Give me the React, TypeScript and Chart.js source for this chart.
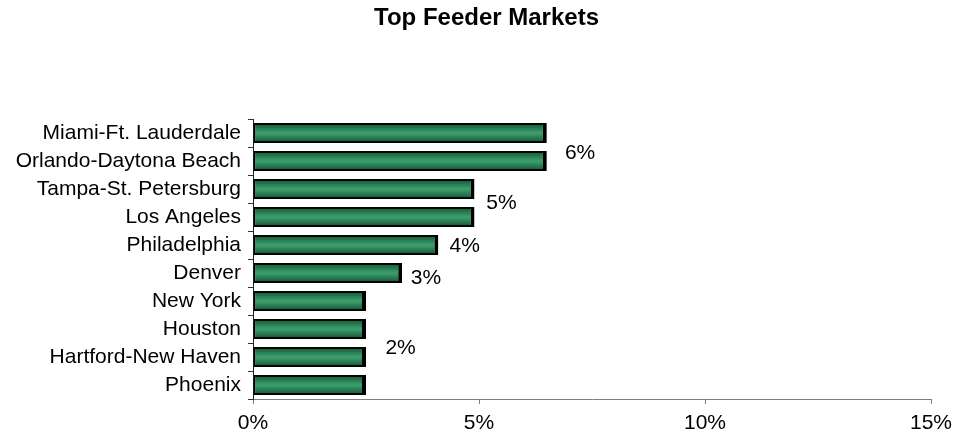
import React, { useEffect, useRef } from "react";
import { Chart, registerables } from "chart.js";

Chart.register(...registerables);

const chartTitle = "Top Feeder Markets";
const markets = [
  "Miami-Ft. Lauderdale",
  "Orlando-Daytona Beach",
  "Tampa-St. Petersburg",
  "Los Angeles",
  "Philadelphia",
  "Denver",
  "New York",
  "Houston",
  "Hartford-New Haven",
  "Phoenix",
];
const shares = [6.5, 6.5, 4.9, 4.9, 4.1, 3.3, 2.5, 2.5, 2.5, 2.5];
const xTickValues = [0, 5, 10, 15];
const valueLabels = ["6%", "5%", "4%", "3%", "2%"];
// label anchor in data space: x value (percent) and row (category index)
const valueLabelX = [6.9, 5.16, 4.35, 3.49, 2.93];
const valueLabelRow = [0.71, 2.5, 4.05, 5.18, 7.7];

const FONT = "'Liberation Sans', Arial, Helvetica, sans-serif";

const barStylePlugin = {
  id: "barStyle",
  afterDatasetsDraw(chart: any) {
    const ctx = chart.ctx;
    const meta = chart.getDatasetMeta(0);
    meta.data.forEach((el: any) => {
      const p = el.getProps(["x", "y", "base", "height"], true);
      const left = Math.min(p.x, p.base) + 2;
      const right = Math.max(p.x, p.base) - 4;
      const top = p.y - p.height / 2 + 2;
      const bottom = p.y + p.height / 2 - 2;
      const g = ctx.createLinearGradient(0, top, 0, bottom);
      g.addColorStop(0, "#1b5f3d");
      g.addColorStop(0.45, "#3a9b6b");
      g.addColorStop(0.55, "#3a9b6b");
      g.addColorStop(1, "#1b5f3d");
      ctx.save();
      ctx.fillStyle = g;
      ctx.fillRect(left, top, right - left, bottom - top);
      ctx.restore();
    });
  },
};

const textPlugin = {
  id: "chartTexts",
  afterDraw(chart: any) {
    const ctx = chart.ctx;
    const xs = chart.scales.x;
    const ys = chart.scales.y;
    const step = ys.getPixelForValue(1) - ys.getPixelForValue(0);
    ctx.save();
    // title, centred on the full canvas width
    ctx.font = `bold 24px ${FONT}`;
    ctx.fillStyle = "#000";
    ctx.textAlign = "center";
    ctx.textBaseline = "middle";
    ctx.fillText(chartTitle, chart.width / 2, 18.5);
    // value labels
    ctx.font = `21px ${FONT}`;
    ctx.textAlign = "left";
    valueLabels.forEach((t, i) => {
      const x = xs.getPixelForValue(valueLabelX[i]);
      const y = ys.getPixelForValue(0) + step * valueLabelRow[i];
      ctx.fillText(t, x, y);
    });
    ctx.restore();
  },
};

export default function App() {
  const ref = useRef<HTMLCanvasElement>(null);
  useEffect(() => {
    if (!ref.current) return;
    const chart = new Chart(ref.current, {
      type: "bar",
      data: {
        labels: markets,
        datasets: [
          {
            data: shares,
            backgroundColor: "#2e8a5a",
            borderColor: "#000000",
            borderWidth: { top: 2, bottom: 2, left: 2, right: 4 },
            borderSkipped: false,
            barPercentage: 0.72,
            categoryPercentage: 1,
          },
        ],
      },
      plugins: [barStylePlugin, textPlugin],
      options: {
        indexAxis: "y",
        animation: false,
        responsive: true,
        maintainAspectRatio: false,
        layout: { padding: { top: 119, bottom: 0, left: 0, right: 42 } },
        plugins: {
          legend: { display: false },
          tooltip: { enabled: false },
          title: { display: false },
        },
        scales: {
          x: {
            type: "linear",
            min: 0,
            max: 15,
            afterBuildTicks: (scale: any) => {
              scale.ticks = xTickValues.map((v) => ({ value: v }));
            },
            afterFit: (scale: any) => {
              scale.height = 38;
            },
            ticks: {
              color: "#000",
              font: { family: FONT, size: 21, lineHeight: 1.2 },
              padding: 7,
              maxRotation: 0,
              callback: (v: any) => `${v}%`,
            },
            grid: {
              drawOnChartArea: false,
              drawTicks: true,
              tickLength: 5,
              color: "#808080",
            },
            border: { display: true, color: "#808080", width: 1 },
          },
          y: {
            type: "category",
            afterFit: (scale: any) => {
              scale.width = 253;
            },
            ticks: {
              color: "#000",
              font: { family: FONT, size: 21, lineHeight: 1.2 },
              padding: 7,
              autoSkip: false,
            },
            grid: {
              offset: true,
              drawOnChartArea: false,
              drawTicks: true,
              tickLength: 5,
              color: "#333333",
            },
            border: { display: true, color: "#222222", width: 1 },
          },
        },
      },
    });
    return () => chart.destroy();
  }, []);
  return (
    <div
      style={{
        position: "absolute",
        left: 0,
        top: 0,
        width: 973,
        height: 437,
        background: "#fff",
      }}
    >
      <canvas ref={ref} />
    </div>
  );
}
